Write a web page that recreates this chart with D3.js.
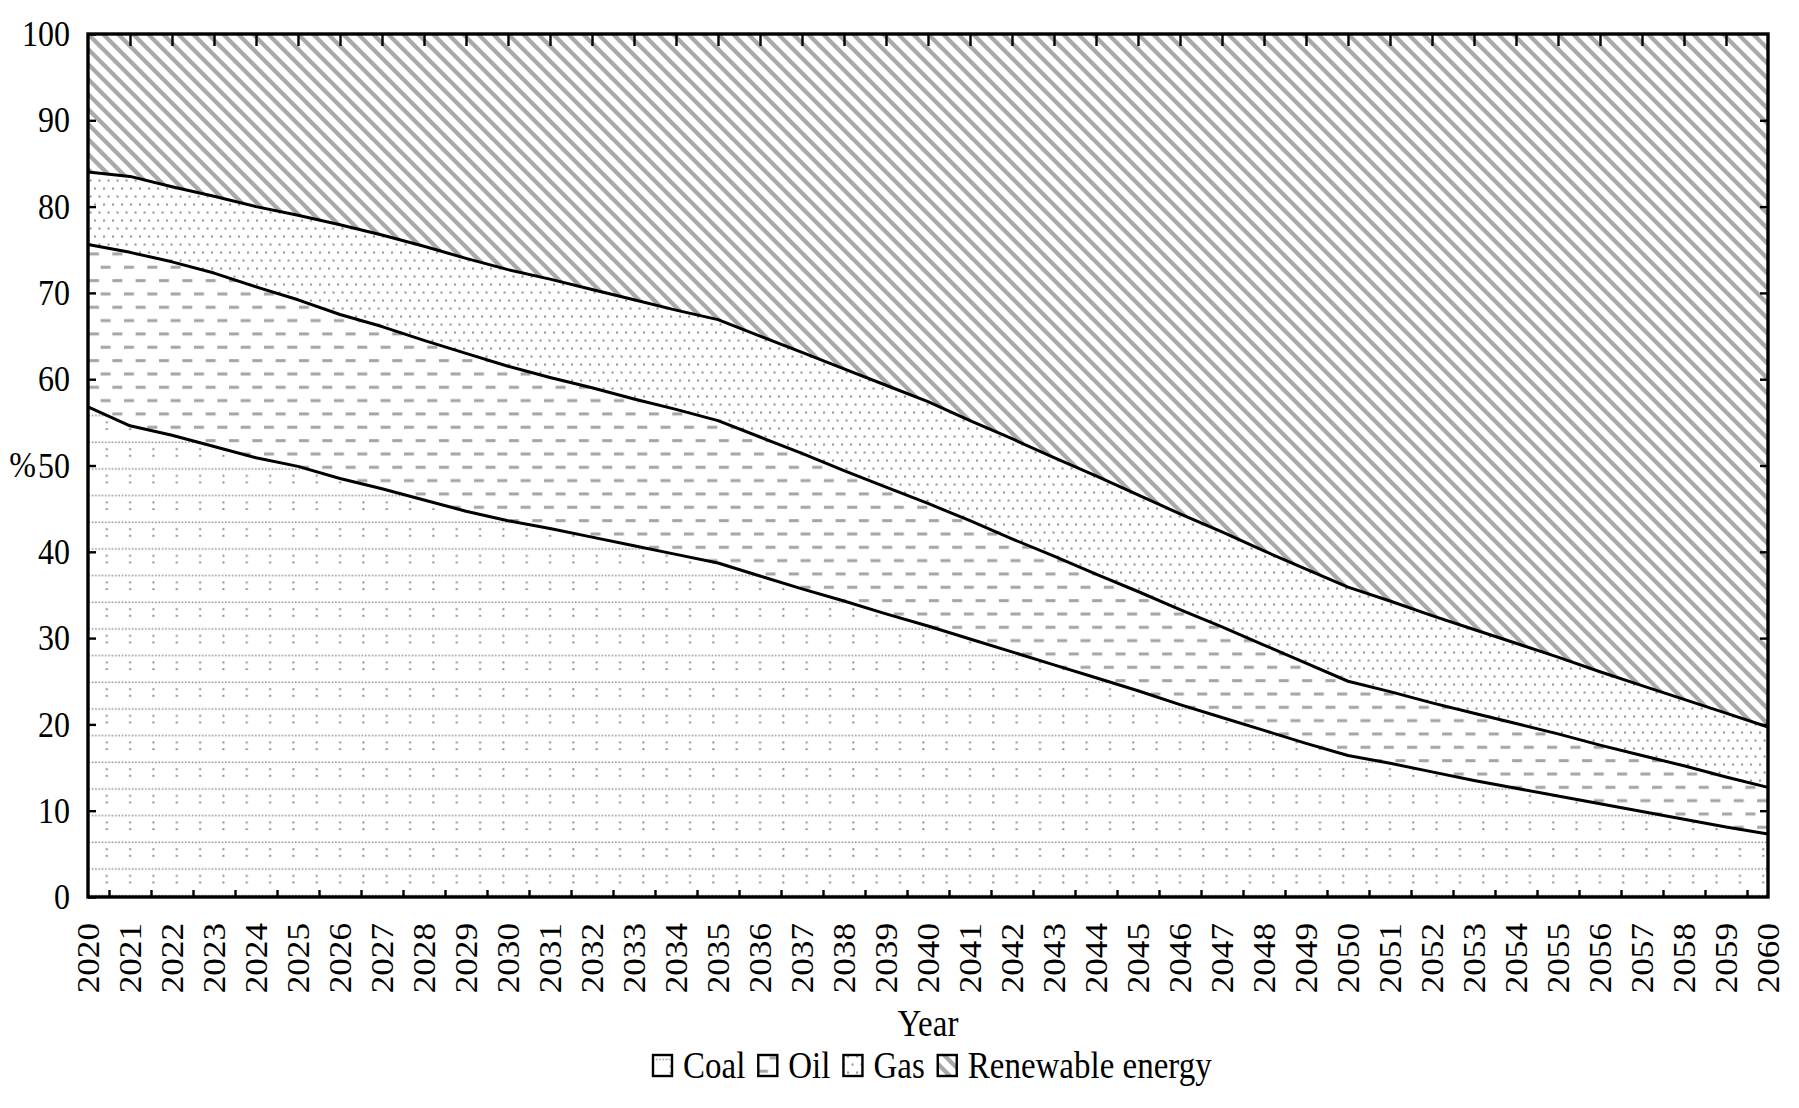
<!DOCTYPE html>
<html><head><meta charset="utf-8">
<script src="https://cdn.jsdelivr.net/npm/d3@7"></script>
<style>body{margin:0;background:#fff}</style>
</head><body>
<svg id="chart" width="1799" height="1108"></svg>
<script>
const years = [2020,2021,2022,2023,2024,2025,2026,2027,2028,2029,2030,2031,2032,2033,2034,2035,2036,2037,2038,2039,2040,
  2041,2042,2043,2044,2045,2046,2047,2048,2049,2050,2051,2052,2053,2054,2055,2056,2057,2058,2059,2060];
const coal = [56.8,54.6,53.5,52.2,50.9,49.9,48.5,47.3,46.0,44.7,43.6,42.7,41.7,40.7,39.7,38.7,37.2,35.7,34.3,32.8,31.4,
  29.9,28.4,26.9,25.4,23.9,22.3,20.8,19.3,17.8,16.4,15.5,14.5,13.5,12.6,11.7,10.8,9.9,9.0,8.1,7.3];
const oil = [18.8,20.1,20.1,20.1,19.8,19.3,19.0,18.8,18.5,18.3,17.9,17.5,17.3,17.0,16.8,16.5,16.1,15.7,15.1,14.7,14.2,
  13.7,13.1,12.6,12.0,11.5,11.0,10.5,9.9,9.3,8.6,8.3,8.0,7.8,7.5,7.2,6.8,6.5,6.2,5.8,5.4];
const gas = [8.4,8.8,8.7,8.9,9.3,9.8,10.4,10.6,10.9,11.0,11.2,11.4,11.4,11.5,11.5,11.7,11.7,11.7,11.8,11.8,11.8,
  11.6,11.6,11.4,11.4,11.2,11.1,11.0,10.9,10.9,10.9,10.5,10.1,9.7,9.3,8.9,8.5,8.1,7.7,7.4,7.0];
const renewable = [16.0,16.5,17.7,18.8,20.0,21.0,22.1,23.3,24.6,26.0,27.3,28.4,29.6,30.8,32.0,33.1,35.0,36.9,38.8,40.7,42.6,
  44.8,46.9,49.1,51.2,53.4,55.6,57.7,59.9,62.0,64.1,65.7,67.4,69.0,70.6,72.2,73.9,75.5,77.1,78.7,80.3];
const seriesKeys = ["coal","oil","gas","renewable"];
const seriesNames = ["Coal","Oil","Gas","Renewable energy"];
const yTicks = [0,10,20,30,40,50,60,70,80,90,100];
const yLabel = "%";
const xTitle = "Year";

const W = 1799, H = 1108;
const margin = {left: 88, top: 34, right: 31, bottom: 211};
const iw = W - margin.left - margin.right;   // 1680
const ih = H - margin.top - margin.bottom;   // 863
const FONT = "'Liberation Serif','Times New Roman',serif";
const SY = 1.1;

const svg = d3.select("#chart");
const defs = svg.append("defs");

// Patterns
const P = 15;
const pRen = defs.append("pattern").attr("id","pRen").attr("patternUnits","userSpaceOnUse")
  .attr("width",P).attr("height",P);
pRen.append("rect").attr("width",P).attr("height",P).attr("fill","#fff");
[[-3,-3,P+3,P+3],[-3,P-3,3,P+3],[P-3,-3,P+3,3]].forEach(s =>
  pRen.append("line").attr("x1",s[0]).attr("y1",s[1]).attr("x2",s[2]).attr("y2",s[3])
    .attr("stroke","#a9a9a9").attr("stroke-width",4.3));

const pGas = defs.append("pattern").attr("id","pGas").attr("patternUnits","userSpaceOnUse")
  .attr("width",9).attr("height",16);
pGas.append("rect").attr("width",9).attr("height",16).attr("fill","#fff");
pGas.append("rect").attr("x",1.5).attr("y",1.5).attr("width",2.1).attr("height",2.1).attr("fill","#989898");
pGas.append("rect").attr("x",6).attr("y",9.5).attr("width",2.1).attr("height",2.1).attr("fill","#989898");

const pOil = defs.append("pattern").attr("id","pOil").attr("patternUnits","userSpaceOnUse")
  .attr("width",23.33).attr("height",26.67);
pOil.append("rect").attr("width",23.33).attr("height",26.67).attr("fill","#fff");
pOil.append("rect").attr("x",1).attr("y",5.1).attr("width",10).attr("height",3).attr("fill","#a4a4a4");
pOil.append("rect").attr("x",12.66).attr("y",18.4).attr("width",10).attr("height",3).attr("fill","#a4a4a4");

const pCoal = defs.append("pattern").attr("id","pCoal").attr("patternUnits","userSpaceOnUse")
  .attr("width",23.33).attr("height",26.67);
pCoal.append("rect").attr("width",23.33).attr("height",26.67).attr("fill","#fff");
for (let k = 0; k < 7; k++) pCoal.append("rect").attr("x",k*3.333+0.4).attr("y",7.4).attr("width",1.6).attr("height",1.6).attr("fill","#959595");
for (let k = 1; k < 4; k++) pCoal.append("rect").attr("x",17.8).attr("y",7.4+k*6.667).attr("width",2).attr("height",2).attr("fill","#8e8e8e");

const fills = {coal:"url(#pCoal)", oil:"url(#pOil)", gas:"url(#pGas)", renewable:"url(#pRen)"};

const table = years.map((yr,i) => ({year: yr, coal: coal[i], oil: oil[i], gas: gas[i], renewable: renewable[i]}));
const stacked = d3.stack().keys(seriesKeys)(table);

const x = d3.scaleLinear().domain([2020,2060]).range([0, iw]);
const y = d3.scaleLinear().domain([0,100]).range([ih, 0]);

const g = svg.append("g").attr("transform",`translate(${margin.left},${margin.top})`);

const area = d3.area().x(d => x(d.data.year)).y0(d => y(d[0])).y1(d => y(d[1]));
g.selectAll("path.area").data(stacked).join("path").attr("class","area")
  .attr("d", d => area(d)).attr("fill", d => fills[d.key]).attr("stroke","none");

const line = d3.line().x(d => x(d.data.year)).y(d => y(d[1]));
g.selectAll("path.bound").data(stacked.slice(0,3)).join("path").attr("class","bound")
  .attr("d", d => line(d)).attr("fill","none").attr("stroke","#000").attr("stroke-width",3).attr("stroke-linejoin","round");

// Axes
const tickStyle = sel => { sel.select(".domain").remove(); sel.selectAll(".tick line").attr("stroke","#000").attr("stroke-width",2.4); };

const yAxisL = g.append("g").call(d3.axisLeft(y).tickValues(yTicks).tickSize(-8).tickPadding(18).tickFormat(d3.format("d")));
tickStyle(yAxisL);
yAxisL.attr("font-family", FONT).attr("font-size", 32);
yAxisL.selectAll(".tick text").attr("fill","#000").attr("dy","0.33em").attr("transform",`scale(1,${SY})`);

g.append("text").text(yLabel).attr("font-family",FONT).attr("font-size",32).attr("text-anchor","end")
  .attr("transform",`translate(-52,${y(50)}) scale(1,${SY})`).attr("dy","0.33em").attr("fill","#000");

const yAxisR = g.append("g").attr("transform",`translate(${iw},0)`)
  .call(d3.axisRight(y).tickValues(yTicks.slice(1,-1)).tickSize(-8).tickFormat(""));
tickStyle(yAxisR);

const xAxisTop = g.append("g").call(d3.axisTop(x).tickValues(years.slice(1,-1)).tickSize(-12).tickFormat(""));
tickStyle(xAxisTop);

const xAxisBotTicks = g.append("g").attr("transform",`translate(0,${ih})`)
  .call(d3.axisBottom(x).tickValues(years.slice(0,-1).map(v => v + 0.5)).tickSize(-7).tickFormat(""));
tickStyle(xAxisBotTicks);

const xAxisLab = g.append("g").attr("transform",`translate(0,${ih})`)
  .call(d3.axisBottom(x).tickValues(years).tickSize(0).tickFormat(d3.format("d")));
xAxisLab.select(".domain").remove();
xAxisLab.attr("font-family", FONT).attr("font-size", 32);
xAxisLab.selectAll(".tick text").attr("fill","#000").attr("x",0).attr("y",0).attr("dy","0.34em")
  .attr("text-anchor","end").attr("transform",`translate(0,26) scale(1,${SY}) rotate(-90)`);

// Frame
g.append("rect").attr("x",0).attr("y",0).attr("width",iw).attr("height",ih)
  .attr("fill","none").attr("stroke","#000").attr("stroke-width",3.4);

// X title
svg.append("text").text(xTitle).attr("font-family",FONT).attr("font-size",33).attr("text-anchor","middle")
  .attr("transform",`translate(${margin.left + iw/2},1036) scale(1,1.12)`).attr("fill","#000");

// Legend
const leg = svg.append("g").attr("transform","translate(652,1078)");
let cx = 0;
seriesKeys.forEach((k,i) => {
  leg.append("rect").attr("x",cx+1).attr("y",-23).attr("width",19).attr("height",21)
    .attr("fill",fills[k]).attr("stroke","#000").attr("stroke-width",2.4);
  cx += 20 + 11;
  const t = leg.append("text").text(seriesNames[i]).attr("font-family",FONT).attr("font-size",33)
    .attr("fill","#000").attr("transform",`translate(${cx},0) scale(1,1.12)`);
  cx += t.node().getComputedTextLength() + 12;
});
</script>
</body></html>
